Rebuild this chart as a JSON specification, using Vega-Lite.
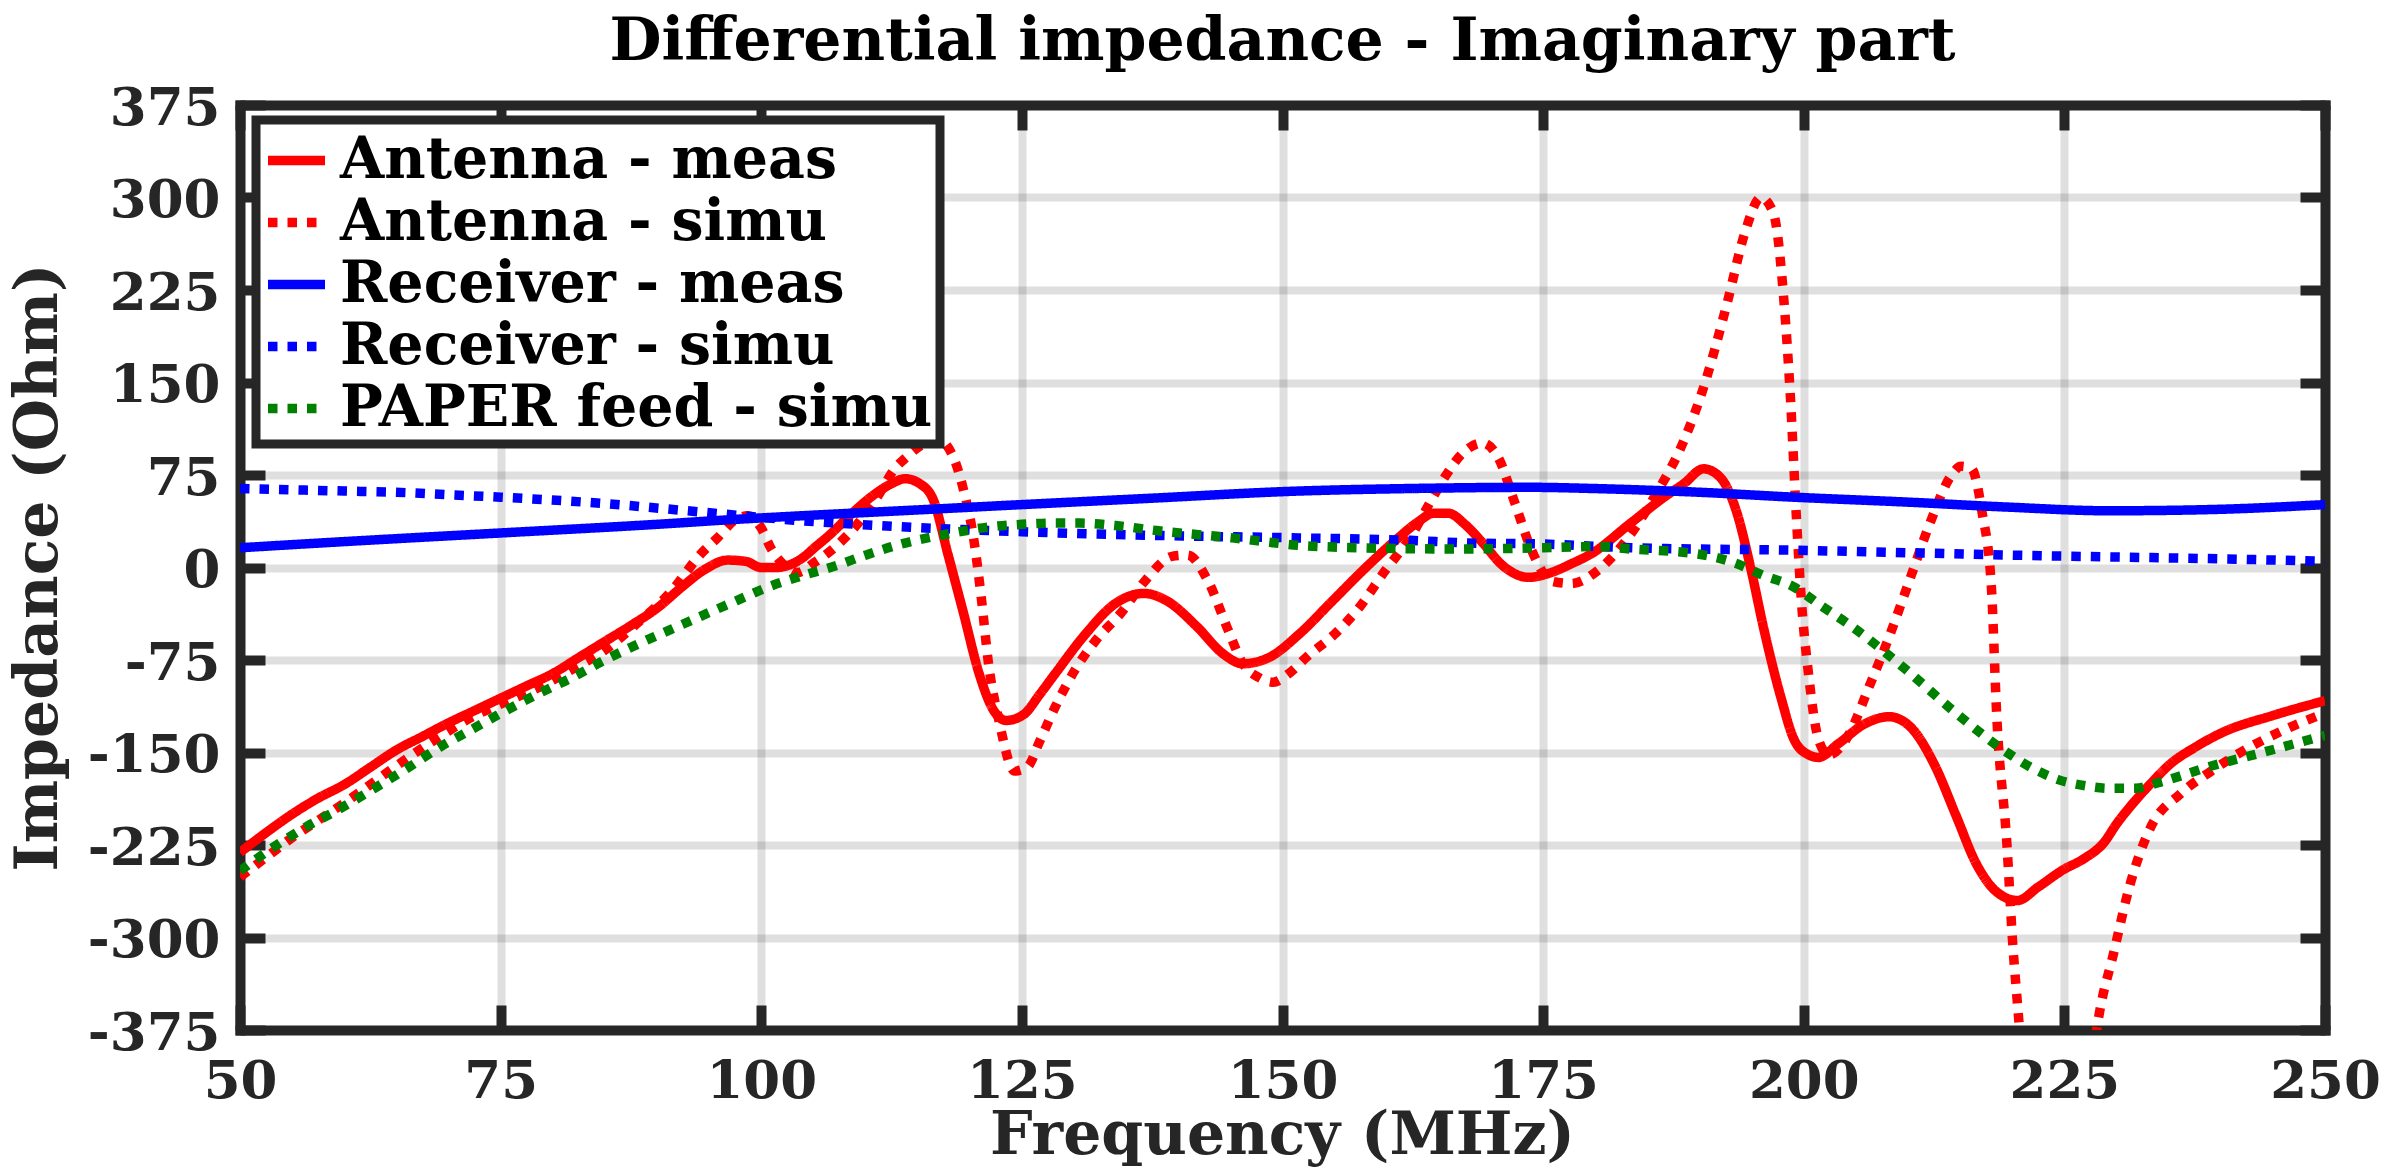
{
  "$schema": "https://vega.github.io/schema/vega-lite/v6.json",
  "width": 2085,
  "height": 925,
  "autosize": {"type": "none"},
  "padding": {"left": 240, "top": 105, "right": 75, "bottom": 140},
  "background": "#ffffff",
  "title": {"text": "Differential impedance - Imaginary part", "font": "DejaVu Serif", "fontSize": 60, "fontWeight": "bold", "color": "#000000", "anchor": "middle", "offset": 9},
  "data": {"values": [
    {"series":"Antenna - meas","f":50,"z":-231},{"series":"Antenna - meas","f":52.5,"z":-215},{"series":"Antenna - meas","f":55,"z":-200},{"series":"Antenna - meas","f":57.5,"z":-187},{"series":"Antenna - meas","f":60,"z":-176},{"series":"Antenna - meas","f":62.5,"z":-162},{"series":"Antenna - meas","f":65,"z":-148},{"series":"Antenna - meas","f":67.5,"z":-137},{"series":"Antenna - meas","f":70,"z":-126},{"series":"Antenna - meas","f":72.5,"z":-116},{"series":"Antenna - meas","f":75,"z":-106},{"series":"Antenna - meas","f":77.5,"z":-96},{"series":"Antenna - meas","f":80,"z":-86},{"series":"Antenna - meas","f":82.5,"z":-73},{"series":"Antenna - meas","f":85,"z":-60},{"series":"Antenna - meas","f":87.5,"z":-47},{"series":"Antenna - meas","f":90,"z":-33},{"series":"Antenna - meas","f":92.5,"z":-15},{"series":"Antenna - meas","f":94.5,"z":-2},{"series":"Antenna - meas","f":96.8,"z":6},{"series":"Antenna - meas","f":98.5,"z":5},{"series":"Antenna - meas","f":100,"z":0},{"series":"Antenna - meas","f":101.5,"z":0},{"series":"Antenna - meas","f":102.5,"z":1.5},{"series":"Antenna - meas","f":104,"z":8},{"series":"Antenna - meas","f":105.1,"z":16},{"series":"Antenna - meas","f":106.5,"z":26},{"series":"Antenna - meas","f":108.6,"z":43},{"series":"Antenna - meas","f":110.5,"z":57},{"series":"Antenna - meas","f":112.5,"z":68},{"series":"Antenna - meas","f":113.8,"z":72},{"series":"Antenna - meas","f":115.2,"z":68},{"series":"Antenna - meas","f":116.5,"z":55},{"series":"Antenna - meas","f":117.9,"z":11},{"series":"Antenna - meas","f":119.4,"z":-37},{"series":"Antenna - meas","f":120.9,"z":-86},{"series":"Antenna - meas","f":122.3,"z":-116},{"series":"Antenna - meas","f":123.5,"z":-124},{"series":"Antenna - meas","f":125.2,"z":-119},{"series":"Antenna - meas","f":126.7,"z":-103},{"series":"Antenna - meas","f":128.2,"z":-86},{"series":"Antenna - meas","f":131.1,"z":-54},{"series":"Antenna - meas","f":134,"z":-29},{"series":"Antenna - meas","f":136.7,"z":-21},{"series":"Antenna - meas","f":138.9,"z":-27},{"series":"Antenna - meas","f":141.8,"z":-48},{"series":"Antenna - meas","f":144.3,"z":-70},{"series":"Antenna - meas","f":146.2,"z":-78},{"series":"Antenna - meas","f":148.7,"z":-73},{"series":"Antenna - meas","f":151.6,"z":-54},{"series":"Antenna - meas","f":154.8,"z":-27},{"series":"Antenna - meas","f":158,"z":0},{"series":"Antenna - meas","f":161.1,"z":24},{"series":"Antenna - meas","f":163,"z":37},{"series":"Antenna - meas","f":164.5,"z":44},{"series":"Antenna - meas","f":165.9,"z":44},{"series":"Antenna - meas","f":167.5,"z":35},{"series":"Antenna - meas","f":169.1,"z":21},{"series":"Antenna - meas","f":171.2,"z":1},{"series":"Antenna - meas","f":173.6,"z":-8},{"series":"Antenna - meas","f":175.8,"z":-4},{"series":"Antenna - meas","f":177.7,"z":3},{"series":"Antenna - meas","f":179.6,"z":11},{"series":"Antenna - meas","f":183.4,"z":36},{"series":"Antenna - meas","f":186.6,"z":57},{"series":"Antenna - meas","f":188.5,"z":68},{"series":"Antenna - meas","f":190.4,"z":80},{"series":"Antenna - meas","f":192,"z":73},{"series":"Antenna - meas","f":193.6,"z":44},{"series":"Antenna - meas","f":194.9,"z":0},{"series":"Antenna - meas","f":196.2,"z":-51},{"series":"Antenna - meas","f":197.8,"z":-105},{"series":"Antenna - meas","f":199.1,"z":-140},{"series":"Antenna - meas","f":200.5,"z":-152},{"series":"Antenna - meas","f":201.4,"z":-154},{"series":"Antenna - meas","f":203.3,"z":-143},{"series":"Antenna - meas","f":205.8,"z":-127},{"series":"Antenna - meas","f":208.2,"z":-121},{"series":"Antenna - meas","f":210.2,"z":-129},{"series":"Antenna - meas","f":212.6,"z":-161},{"series":"Antenna - meas","f":214.6,"z":-201},{"series":"Antenna - meas","f":216.6,"z":-241},{"series":"Antenna - meas","f":218.5,"z":-263},{"series":"Antenna - meas","f":220.5,"z":-270},{"series":"Antenna - meas","f":222.5,"z":-259},{"series":"Antenna - meas","f":224.9,"z":-245},{"series":"Antenna - meas","f":226.9,"z":-236},{"series":"Antenna - meas","f":228.8,"z":-223},{"series":"Antenna - meas","f":230,"z":-208},{"series":"Antenna - meas","f":231.3,"z":-194},{"series":"Antenna - meas","f":233.2,"z":-176},{"series":"Antenna - meas","f":235.2,"z":-159},{"series":"Antenna - meas","f":237.5,"z":-146},{"series":"Antenna - meas","f":240.1,"z":-134},{"series":"Antenna - meas","f":245,"z":-120},{"series":"Antenna - meas","f":250,"z":-108},
    {"series":"Antenna - simu","f":50,"z":-251},{"series":"Antenna - simu","f":52.5,"z":-235},{"series":"Antenna - simu","f":55,"z":-219},{"series":"Antenna - simu","f":57.5,"z":-205},{"series":"Antenna - simu","f":60,"z":-191},{"series":"Antenna - simu","f":63,"z":-173},{"series":"Antenna - simu","f":66,"z":-155},{"series":"Antenna - simu","f":69,"z":-138},{"series":"Antenna - simu","f":72.3,"z":-121},{"series":"Antenna - simu","f":75.5,"z":-109},{"series":"Antenna - simu","f":78.7,"z":-97},{"series":"Antenna - simu","f":82,"z":-82},{"series":"Antenna - simu","f":85,"z":-67},{"series":"Antenna - simu","f":88,"z":-46},{"series":"Antenna - simu","f":91.4,"z":-19},{"series":"Antenna - simu","f":94.2,"z":11},{"series":"Antenna - simu","f":95.8,"z":24},{"series":"Antenna - simu","f":97.4,"z":38},{"series":"Antenna - simu","f":98.7,"z":42},{"series":"Antenna - simu","f":100,"z":32},{"series":"Antenna - simu","f":100.9,"z":16},{"series":"Antenna - simu","f":102.5,"z":0},{"series":"Antenna - simu","f":103.5,"z":-4},{"series":"Antenna - simu","f":105.1,"z":4},{"series":"Antenna - simu","f":107,"z":16},{"series":"Antenna - simu","f":109.5,"z":38},{"series":"Antenna - simu","f":111.2,"z":58},{"series":"Antenna - simu","f":112.7,"z":79},{"series":"Antenna - simu","f":114,"z":90},{"series":"Antenna - simu","f":115.5,"z":100},{"series":"Antenna - simu","f":116.9,"z":104},{"series":"Antenna - simu","f":118.4,"z":90},{"series":"Antenna - simu","f":119.4,"z":63},{"series":"Antenna - simu","f":120.4,"z":22},{"series":"Antenna - simu","f":121.1,"z":-24},{"series":"Antenna - simu","f":121.8,"z":-78},{"series":"Antenna - simu","f":122.8,"z":-124},{"series":"Antenna - simu","f":124.3,"z":-165},{"series":"Antenna - simu","f":125.5,"z":-162},{"series":"Antenna - simu","f":126.7,"z":-141},{"series":"Antenna - simu","f":128.2,"z":-113},{"series":"Antenna - simu","f":130.1,"z":-83},{"series":"Antenna - simu","f":132.1,"z":-59},{"series":"Antenna - simu","f":134.5,"z":-37},{"series":"Antenna - simu","f":136.9,"z":-10},{"series":"Antenna - simu","f":139.4,"z":9},{"series":"Antenna - simu","f":140.9,"z":10},{"series":"Antenna - simu","f":142.8,"z":-10},{"series":"Antenna - simu","f":144.8,"z":-51},{"series":"Antenna - simu","f":146.2,"z":-78},{"series":"Antenna - simu","f":147.7,"z":-89},{"series":"Antenna - simu","f":149.1,"z":-93},{"series":"Antenna - simu","f":150.6,"z":-86},{"series":"Antenna - simu","f":152.4,"z":-72},{"series":"Antenna - simu","f":155,"z":-54},{"series":"Antenna - simu","f":157.4,"z":-32},{"series":"Antenna - simu","f":159.9,"z":-2},{"series":"Antenna - simu","f":161.1,"z":11},{"series":"Antenna - simu","f":162.3,"z":25},{"series":"Antenna - simu","f":164.3,"z":55},{"series":"Antenna - simu","f":165.7,"z":75},{"series":"Antenna - simu","f":167.2,"z":92},{"series":"Antenna - simu","f":169.2,"z":101},{"series":"Antenna - simu","f":170.7,"z":89},{"series":"Antenna - simu","f":172.3,"z":52},{"series":"Antenna - simu","f":173.9,"z":14},{"series":"Antenna - simu","f":175.8,"z":-11},{"series":"Antenna - simu","f":177.7,"z":-13},{"series":"Antenna - simu","f":180.3,"z":-2},{"series":"Antenna - simu","f":183.4,"z":27},{"series":"Antenna - simu","f":186,"z":62},{"series":"Antenna - simu","f":188.2,"z":97},{"series":"Antenna - simu","f":190.2,"z":141},{"series":"Antenna - simu","f":192.7,"z":216},{"series":"Antenna - simu","f":194.3,"z":270},{"series":"Antenna - simu","f":195.9,"z":300},{"series":"Antenna - simu","f":197.1,"z":287},{"series":"Antenna - simu","f":198.1,"z":216},{"series":"Antenna - simu","f":198.7,"z":141},{"series":"Antenna - simu","f":199.3,"z":40},{"series":"Antenna - simu","f":199.8,"z":-30},{"series":"Antenna - simu","f":200.4,"z":-82},{"series":"Antenna - simu","f":201.4,"z":-139},{"series":"Antenna - simu","f":202.4,"z":-152},{"series":"Antenna - simu","f":203.5,"z":-146},{"series":"Antenna - simu","f":204.3,"z":-136},{"series":"Antenna - simu","f":206.3,"z":-96},{"series":"Antenna - simu","f":208.2,"z":-56},{"series":"Antenna - simu","f":210.2,"z":-9},{"series":"Antenna - simu","f":212.2,"z":38},{"series":"Antenna - simu","f":214.1,"z":74},{"series":"Antenna - simu","f":215.1,"z":82},{"series":"Antenna - simu","f":216.1,"z":80},{"series":"Antenna - simu","f":217.1,"z":45},{"series":"Antenna - simu","f":218,"z":-16},{"series":"Antenna - simu","f":218.5,"z":-118},{"series":"Antenna - simu","f":219.5,"z":-226},{"series":"Antenna - simu","f":220,"z":-299},{"series":"Antenna - simu","f":220.7,"z":-375},{"series":"Antenna - simu","f":221.5,"z":-470},{"series":"Antenna - simu","f":224,"z":-580},{"series":"Antenna - simu","f":226.5,"z":-500},{"series":"Antenna - simu","f":228.1,"z":-375},{"series":"Antenna - simu","f":229.8,"z":-310},{"series":"Antenna - simu","f":231.3,"z":-257},{"series":"Antenna - simu","f":233.2,"z":-212},{"series":"Antenna - simu","f":236.2,"z":-183},{"series":"Antenna - simu","f":239.1,"z":-165},{"series":"Antenna - simu","f":242.5,"z":-147},{"series":"Antenna - simu","f":246,"z":-132},{"series":"Antenna - simu","f":250,"z":-118},
    {"series":"Receiver - meas","f":50,"z":16},{"series":"Receiver - meas","f":60,"z":21},{"series":"Receiver - meas","f":75,"z":28},{"series":"Receiver - meas","f":90,"z":35},{"series":"Receiver - meas","f":97.5,"z":39},{"series":"Receiver - meas","f":104,"z":42},{"series":"Receiver - meas","f":113.4,"z":46},{"series":"Receiver - meas","f":125,"z":51},{"series":"Receiver - meas","f":137,"z":56},{"series":"Receiver - meas","f":151.6,"z":62},{"series":"Receiver - meas","f":162,"z":64},{"series":"Receiver - meas","f":174,"z":65},{"series":"Receiver - meas","f":180,"z":64},{"series":"Receiver - meas","f":190,"z":61},{"series":"Receiver - meas","f":199.1,"z":57},{"series":"Receiver - meas","f":210,"z":53},{"series":"Receiver - meas","f":219.5,"z":49},{"series":"Receiver - meas","f":229.3,"z":46},{"series":"Receiver - meas","f":239.1,"z":47},{"series":"Receiver - meas","f":250,"z":51},
    {"series":"Receiver - simu","f":50,"z":64},{"series":"Receiver - simu","f":55,"z":63},{"series":"Receiver - simu","f":60,"z":62},{"series":"Receiver - simu","f":65,"z":61},{"series":"Receiver - simu","f":70,"z":59},{"series":"Receiver - simu","f":75,"z":57},{"series":"Receiver - simu","f":84.7,"z":52},{"series":"Receiver - simu","f":94.2,"z":45},{"series":"Receiver - simu","f":103.8,"z":38},{"series":"Receiver - simu","f":113.4,"z":33},{"series":"Receiver - simu","f":125,"z":29},{"series":"Receiver - simu","f":137.9,"z":26},{"series":"Receiver - simu","f":151.6,"z":24},{"series":"Receiver - simu","f":162.3,"z":22},{"series":"Receiver - simu","f":167.5,"z":20},{"series":"Receiver - simu","f":175,"z":19},{"series":"Receiver - simu","f":183.4,"z":16},{"series":"Receiver - simu","f":199.1,"z":14},{"series":"Receiver - simu","f":210,"z":12},{"series":"Receiver - simu","f":220,"z":10},{"series":"Receiver - simu","f":230,"z":8.5},{"series":"Receiver - simu","f":240,"z":7},{"series":"Receiver - simu","f":250,"z":5},
    {"series":"PAPER feed - simu","f":50,"z":-246},{"series":"PAPER feed - simu","f":53,"z":-228},{"series":"PAPER feed - simu","f":56.4,"z":-210},{"series":"PAPER feed - simu","f":59.5,"z":-196},{"series":"PAPER feed - simu","f":62.7,"z":-180},{"series":"PAPER feed - simu","f":66,"z":-163},{"series":"PAPER feed - simu","f":69.1,"z":-146},{"series":"PAPER feed - simu","f":72.3,"z":-131},{"series":"PAPER feed - simu","f":75.5,"z":-116},{"series":"PAPER feed - simu","f":78.7,"z":-102},{"series":"PAPER feed - simu","f":81.9,"z":-89},{"series":"PAPER feed - simu","f":85,"z":-75},{"series":"PAPER feed - simu","f":88.2,"z":-62},{"series":"PAPER feed - simu","f":91.4,"z":-50},{"series":"PAPER feed - simu","f":94.6,"z":-38},{"series":"PAPER feed - simu","f":97.6,"z":-27},{"series":"PAPER feed - simu","f":100.6,"z":-16},{"series":"PAPER feed - simu","f":103.8,"z":-7},{"series":"PAPER feed - simu","f":107,"z":1},{"series":"PAPER feed - simu","f":110,"z":10},{"series":"PAPER feed - simu","f":113.4,"z":19},{"series":"PAPER feed - simu","f":118.4,"z":28},{"series":"PAPER feed - simu","f":122,"z":33},{"series":"PAPER feed - simu","f":125,"z":35},{"series":"PAPER feed - simu","f":128,"z":36},{"series":"PAPER feed - simu","f":130.6,"z":36},{"series":"PAPER feed - simu","f":134,"z":34},{"series":"PAPER feed - simu","f":137.9,"z":30},{"series":"PAPER feed - simu","f":145.2,"z":24},{"series":"PAPER feed - simu","f":151.6,"z":18},{"series":"PAPER feed - simu","f":157.4,"z":16},{"series":"PAPER feed - simu","f":167.2,"z":15},{"series":"PAPER feed - simu","f":175,"z":16},{"series":"PAPER feed - simu","f":180.3,"z":17},{"series":"PAPER feed - simu","f":183.4,"z":15},{"series":"PAPER feed - simu","f":189.8,"z":11},{"series":"PAPER feed - simu","f":193.6,"z":3},{"series":"PAPER feed - simu","f":196,"z":-6},{"series":"PAPER feed - simu","f":199.1,"z":-16},{"series":"PAPER feed - simu","f":201.5,"z":-30},{"series":"PAPER feed - simu","f":204.8,"z":-49},{"series":"PAPER feed - simu","f":209.7,"z":-82},{"series":"PAPER feed - simu","f":214.6,"z":-118},{"series":"PAPER feed - simu","f":219.5,"z":-150},{"series":"PAPER feed - simu","f":222,"z":-163},{"series":"PAPER feed - simu","f":224.4,"z":-172},{"series":"PAPER feed - simu","f":227,"z":-177},{"series":"PAPER feed - simu","f":229.3,"z":-179},{"series":"PAPER feed - simu","f":231.8,"z":-179},{"series":"PAPER feed - simu","f":234.2,"z":-174},{"series":"PAPER feed - simu","f":239.1,"z":-161},{"series":"PAPER feed - simu","f":244,"z":-150},{"series":"PAPER feed - simu","f":250,"z":-136}
  ]},
  "layer": [
    {
      "mark": {"type": "line", "clip": true, "strokeWidth": 9.5, "interpolate": "monotone"},
      "encoding": {
        "x": {"field": "f", "type": "quantitative",
          "scale": {"domain": [50, 250], "nice": false, "zero": false},
          "axis": {"orient": "bottom", "values": [50,75,100,125,150,175,200,225,250], "grid": true,
            "labelBaseline": "alphabetic", "labelPadding": 92, "labelAlign": "center", "labelExpr": "'' + datum.value",
            "title": "Frequency (MHz)", "titleX": 1042, "titleY": 123, "titleAlign": "center", "titleBaseline": "alphabetic"}},
        "y": {"field": "z", "type": "quantitative",
          "scale": {"domain": [-375, 375], "nice": false, "zero": false},
          "axis": {"orient": "left", "values": [-375,-300,-225,-150,-75,0,75,150,225,300,375], "grid": true,
            "labelAlign": "right", "labelBaseline": "middle", "labelPadding": 45, "labelOffset": 3, "labelExpr": "'' + datum.value",
            "title": "Impedance (Ohm)", "titleX": -184, "titleY": 462, "titleAngle": 270, "titleAlign": "center", "titleBaseline": "alphabetic"}},
        "color": {"field": "series", "type": "nominal",
          "scale": {"domain": ["Antenna - meas", "Antenna - simu", "Receiver - meas", "Receiver - simu", "PAPER feed - simu"],
                    "range": ["#ff0000", "#ff0000", "#0000ff", "#0000ff", "#008000"]},
          "legend": {"title": null}},
        "strokeDash": {"field": "series", "type": "nominal",
          "scale": {"domain": ["Antenna - meas", "Antenna - simu", "Receiver - meas", "Receiver - simu", "PAPER feed - simu"],
                    "range": [[1, 0], [9.5, 10], [1, 0], [9.5, 10], [9.5, 10]]},
          "legend": {"title": null}}
      }
    },
    {
      "mark": {"type": "line", "opacity": 0},
      "encoding": {
        "x": {"field": "f", "type": "quantitative",
          "scale": {"domain": [50, 250], "nice": false, "zero": false},
          "axis": {"orient": "top", "values": [50,75,100,125,150,175,200,225,250], "grid": false, "labels": false, "title": null}},
        "y": {"field": "z", "type": "quantitative",
          "scale": {"domain": [-375, 375], "nice": false, "zero": false},
          "axis": {"orient": "right", "values": [-375,-300,-225,-150,-75,0,75,150,225,300,375], "grid": false, "labels": false, "title": null}}
      }
    }
  ],
  "resolve": {"axis": {"x": "independent", "y": "independent"}},
  "config": {
    "view": {"stroke": null},
    "axis": {
      "domainColor": "#262626", "domainWidth": 10, "domainCap": "square",
      "tickColor": "#262626", "tickWidth": 10, "tickSize": -25, "tickCap": "butt",
      "gridColor": "#262626", "gridOpacity": 0.15, "gridWidth": 8,
      "labelFont": "DejaVu Serif", "labelFontSize": 53, "labelFontWeight": "bold", "labelColor": "#262626",
      "labelOverlap": false, "labelFlush": false, "labelBound": false,
      "titleFont": "DejaVu Serif", "titleFontSize": 60, "titleFontWeight": "bold", "titleColor": "#262626"
    },
    "legend": {
      "orient": "none", "legendX": 16, "legendY": 15, "direction": "vertical",
      "symbolType": "stroke", "symbolSize": 3249, "symbolStrokeWidth": 9.5,
      "labelFont": "DejaVu Serif", "labelFontSize": 57, "labelFontWeight": "bold", "labelColor": "#000000",
      "labelLimit": 2000, "labelOffset": 10, "rowPadding": 0, "padding": 7,
      "strokeColor": "#262626", "strokeWidth": 9, "fillColor": "#ffffff"
    }
  }
}
